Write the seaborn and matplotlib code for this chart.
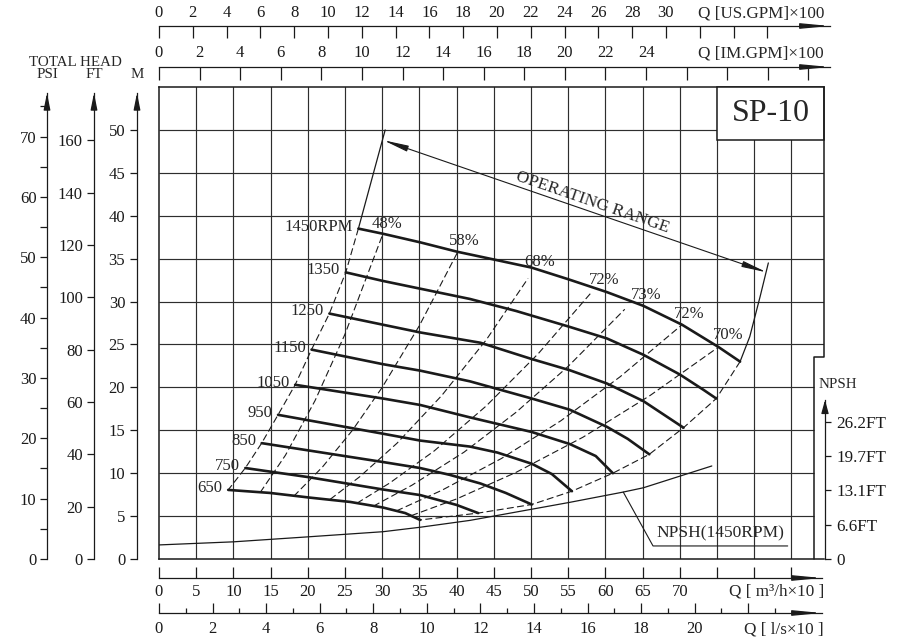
import numpy as np
import pandas as pd
import seaborn as sns
import matplotlib.pyplot as plt
from matplotlib.patches import Rectangle

# --- performance data ---
# flow Q in (m3/h x10), head H in metres
q_1450 = [26.8, 30.1, 35.1, 40.1, 45.0, 50.1, 55.0, 60.2, 65.1, 70.3, 75.2, 78.1]
h_1450 = [38.5, 37.9, 36.9, 35.8, 34.9, 33.95, 32.6, 31.1, 29.5, 27.3, 24.7, 23.0]
q_1350 = [25.1, 30.1, 35.1, 41.8, 48.0, 55.0, 60.2, 65.1, 70.0, 73.2, 74.9]
h_1350 = [33.4, 32.4, 31.5, 30.3, 28.9, 27.1, 25.7, 23.8, 21.5, 19.7, 18.7]
q_1250 = [22.9, 30.1, 35.1, 43.2, 50.1, 55.2, 60.2, 65.1, 70.5]
h_1250 = [28.6, 27.3, 26.4, 25.2, 23.3, 22.0, 20.45, 18.4, 15.3]
q_1150 = [20.5, 30.1, 35.1, 41.8, 50.1, 55.2, 60.2, 63.0, 65.9]
h_1150 = [24.4, 22.7, 21.95, 20.7, 18.7, 17.4, 15.4, 14.0, 12.2]
q_1050 = [18.3, 30.1, 35.1, 41.8, 50.1, 55.2, 58.7, 61.0]
h_1050 = [20.3, 18.7, 17.95, 16.5, 14.8, 13.4, 12.0, 10.0]
q_950 = [16.0, 30.1, 35.1, 41.8, 45.5, 50.1, 52.8, 55.5]
h_950 = [16.8, 14.6, 13.8, 13.1, 12.4, 11.1, 9.9, 7.9]
q_850 = [13.8, 30.1, 35.1, 39.1, 43.2, 46.6, 50.1]
h_850 = [13.5, 11.3, 10.6, 9.8, 8.8, 7.7, 6.35]
q_750 = [11.6, 20.0, 30.1, 35.1, 40.0, 42.9]
h_750 = [10.6, 9.55, 8.1, 7.45, 6.3, 5.35]
q_650 = [9.3, 14.9, 20.3, 25.7, 30.1, 33.1, 35.1]
h_650 = [8.05, 7.7, 7.15, 6.65, 6.0, 5.35, 4.55]

speeds = [1450, 1350, 1250, 1150, 1050, 950, 850, 750, 650]
speed_q = [q_1450, q_1350, q_1250, q_1150, q_1050, q_950, q_850, q_750, q_650]
speed_h = [h_1450, h_1350, h_1250, h_1150, h_1050, h_950, h_850, h_750, h_650]

# iso-efficiency lines (dashed)
eff_text = ['48%', '58%', '68%', '72%', '73%', '72%', '70%']
iso_48_q = [13.6, 17.0, 21.0, 25.0, 30.1]
iso_48_h = [7.75, 12.1, 18.5, 26.2, 37.9]
iso_58_q = [18.1, 22.0, 26.0, 30.0, 35.0, 40.1]
iso_58_h = [7.3, 10.75, 15.0, 20.0, 27.2, 35.7]
iso_68_q = [23.0, 27.0, 32.0, 38.0, 44.0, 49.6]
iso_68_h = [6.95, 9.6, 13.5, 19.05, 25.55, 32.7]
iso_72a_q = [26.6, 31.0, 37.0, 44.0, 51.0, 58.2]
iso_72a_h = [6.5, 8.85, 12.6, 17.85, 23.95, 31.15]
iso_73_q = [28.8, 34.0, 41.0, 48.0, 55.0, 62.6]
iso_73_h = [6.15, 8.6, 12.45, 17.1, 22.45, 29.1]
iso_72b_q = [31.9, 38.0, 46.0, 54.0, 62.0, 70.3]
iso_72b_h = [5.6, 8.0, 11.7, 16.1, 21.25, 27.3]
iso_70_q = [33.9, 40.0, 48.0, 57.0, 66.0, 75.2]
iso_70_h = [5.05, 7.0, 10.1, 14.2, 19.05, 24.7]
iso_q = [iso_48_q, iso_58_q, iso_68_q, iso_72a_q, iso_73_q, iso_72b_q, iso_70_q]
iso_h = [iso_48_h, iso_58_h, iso_68_h, iso_72a_h, iso_73_h, iso_72b_h, iso_70_h]
eff_label_q = [30.7, 41.0, 51.1, 59.8, 65.5, 71.2, 76.5]
eff_label_h = [39.0, 37.0, 34.65, 32.5, 30.8, 28.5, 26.1]

# NPSH at 1450 rpm (metres)
npsh_q = [0, 10.0, 20.0, 30.1, 35.1, 41.8, 50.1, 55.2, 62.4, 65.1, 74.3]
npsh_m = [0.82, 1.0, 1.29, 1.59, 1.85, 2.25, 2.9, 3.3, 3.9, 4.15, 5.42]

# operating range limits
op_left_q = [26.8, 30.4]
op_left_h = [38.5, 50.0]
op_right_q = [78.1, 79.4, 80.8, 81.9]
op_right_h = [23.0, 25.9, 30.6, 34.5]
op_arrow_q = [30.15, 81.7]
op_arrow_h = [48.8, 33.4]

# unit conversions per (m3/h x10)
US_GPM = 0.4403
IM_GPM = 0.3666
LPS = 0.2778
PSI_PER_M = 1.4223
FT_PER_M = 3.2808

# --- style ---
sns.set_theme(style='white')
plt.rcParams['font.family'] = ['Liberation Serif', 'DejaVu Serif']
plt.rcParams['lines.scale_dashes'] = False
plt.rcParams['lines.dashed_pattern'] = [5.0, 2.4]

W, H = 904, 638
fig = plt.figure(figsize=(W / 100, H / 100), dpi=100)


def px_box(x0, y0, x1, y1):
    return [x0 / W, 1 - y1 / H, (x1 - x0) / W, (y1 - y0) / H]


def arrow_head(a, xy, back, hl, hw):
    a.annotate('', xy=xy, xycoords='axes fraction', xytext=back, textcoords='offset points',
               arrowprops=dict(arrowstyle=f'-|>,head_length={hl},head_width={hw}', fc='k', ec='k',
                               lw=0.9, shrinkA=0, shrinkB=0, mutation_scale=10), annotation_clip=False)


QMAX, HMAX = 89.38, 55.0
STEP_Q, STEP_H = 88.04, 23.54
PX_Q = 665 / QMAX
GRID = '#2e2e2e'
TICK_FS = 12

# main plot area
ax = fig.add_axes(px_box(159, 87, 824, 559))
ax.set_axisbelow(True)

curves = pd.concat([pd.DataFrame({'rpm': n, 'q': q, 'h': h})
                    for n, q, h in zip(speeds, speed_q, speed_h)])
sns.lineplot(data=curves, x='q', y='h', units='rpm', estimator=None, sort=False,
             color='k', lw=1.9, ax=ax, legend=False, zorder=3)

iso = pd.concat([pd.DataFrame({'line': i, 'q': q, 'h': h})
                 for i, (q, h) in enumerate(zip(iso_q, iso_h))])
sns.lineplot(data=iso, x='q', y='h', units='line', estimator=None, sort=False,
             color='k', lw=0.8, linestyle='--', ax=ax, legend=False, zorder=2)

# left (start) and right (end) dashed limits
sns.lineplot(x=[q[0] for q in speed_q], y=[h[0] for h in speed_h], sort=False,
             color='k', lw=0.8, linestyle='--', ax=ax, zorder=2)
sns.lineplot(x=[q[-1] for q in speed_q], y=[h[-1] for h in speed_h], sort=False,
             color='k', lw=0.8, linestyle='--', ax=ax, zorder=2)

# operating range boundaries and arrow
ax.plot(op_left_q, op_left_h, color='k', lw=0.9, zorder=3)
ax.plot(op_right_q, op_right_h, color='k', lw=0.9, zorder=3)
ax.annotate('', xy=(op_arrow_q[1], op_arrow_h[1]), xytext=(op_arrow_q[0], op_arrow_h[0]),
            arrowprops=dict(arrowstyle='<|-|>,head_length=1.5,head_width=0.18', fc='k', ec='k',
                            lw=0.8, shrinkA=0, shrinkB=0, mutation_scale=10))

ax.set_xlim(0, QMAX)
ax.set_ylim(0, HMAX)
ax.set_xlabel('')
ax.set_ylabel('')

p0 = ax.transData.transform((op_arrow_q[0], op_arrow_h[0]))
p1 = ax.transData.transform((op_arrow_q[1], op_arrow_h[1]))
angle = np.degrees(np.arctan2(p1[1] - p0[1], p1[0] - p0[0]))
ax.text(58.2, 41.55, 'OPERATING RANGE', rotation=angle, rotation_mode='anchor',
        ha='center', va='center', fontsize=12.5, zorder=5)

# grid
ax.set_xticks(np.arange(5, 90, 5))
ax.set_yticks([])
ax.tick_params(length=0, labelbottom=False, labelleft=False)
ax.grid(axis='x', color=GRID, lw=0.85)
for yv in range(5, 55, 5):
    ax.hlines(yv, 0, QMAX if yv > STEP_H else STEP_Q, color=GRID, lw=0.85, zorder=0.5)

for side in ['left', 'top', 'bottom']:
    ax.spines[side].set_color('k')
    ax.spines[side].set_linewidth(1.1)
ax.spines['right'].set_visible(False)
ax.plot([QMAX, QMAX, STEP_Q, STEP_Q], [HMAX, STEP_H, STEP_H, 0], color='k', lw=1.1,
        clip_on=False, zorder=5)

# model box
ax.add_patch(Rectangle((75, 48.8), QMAX - 75, HMAX - 48.8, fc='white', ec='k', lw=1.1,
                       zorder=4, clip_on=False))
ax.text((75 + QMAX) / 2, (48.8 + HMAX) / 2, 'SP-10', ha='center', va='center',
        fontsize=23, zorder=5)

# speed and efficiency labels
for n, q, h in zip(speeds, speed_q, speed_h):
    ax.annotate(f'{n}RPM' if n == 1450 else str(n), xy=(q[0], h[0]), xytext=(-4, 1.5),
                textcoords='offset points', ha='right', va='center', fontsize=12, zorder=5)
for t, q, h in zip(eff_text, eff_label_q, eff_label_h):
    ax.text(q, h, t, ha='center', va='center', fontsize=12, zorder=5)

# NPSH curve on its own (doubled) scale
ax_n = fig.add_axes(px_box(159, 87, 824, 559))
sns.lineplot(x=npsh_q, y=npsh_m, color='k', lw=0.9, ax=ax_n, zorder=3)
ax_n.plot([npsh_q[8], 66.4, 84.5], [npsh_m[8], 0.76, 0.76], color='k', lw=0.8)
ax_n.text(75.4, 1.02, 'NPSH(1450RPM)', ha='center', va='bottom', fontsize=12.5)
ax_n.set_xlim(0, QMAX)
ax_n.set_ylim(0, HMAX / 2)
ax_n.axis('off')


# flow scales
def flow_axis(y, tip, per_unit, ticks, last_label, tick_px, side, pad, minor=None):
    if side == 'top':
        a = fig.add_axes(px_box(159, y, tip, y + 1))
    else:
        a = fig.add_axes(px_box(159, y - 1, tip, y))
    a.set_xlim(0, (tip - 159) / PX_Q)
    a.set_ylim(0, 1)
    a.patch.set_visible(False)
    for s in a.spines.values():
        s.set_visible(False)
    a.spines[side].set_visible(True)
    a.spines[side].set_color('k')
    a.spines[side].set_linewidth(0.9)
    a.set_yticks([])
    a.set_xticks([v / per_unit for v in ticks])
    a.set_xticklabels([str(v) if v <= last_label else '' for v in ticks])
    top = side == 'top'
    a.tick_params(axis='x', which='both', direction='in', width=0.9, pad=pad, labelsize=TICK_FS,
                  top=top, bottom=not top, labeltop=top, labelbottom=not top, colors='k')
    a.tick_params(axis='x', which='major', length=tick_px * 0.72)
    if minor is not None:
        a.set_xticks([v / per_unit for v in minor], minor=True)
        a.tick_params(axis='x', which='minor', length=tick_px * 0.36)
    arrow_head(a, (1, 1 if top else 0), (-17, 0), 1.7, 0.16)
    return a


flow_axis(26, 830, US_GPM, list(range(0, 37, 2)), 30, 12, 'top', 3.5)
flow_axis(67, 830, IM_GPM, list(range(0, 33, 2)), 24, 13, 'top', 4.5)
flow_axis(578, 822, 1.0, list(range(0, 86, 5)), 70, 11, 'bottom', 4.5)
flow_axis(613, 822, LPS, list(range(0, 23, 2)), 20, 10, 'bottom', 5.5,
          minor=list(range(1, 24, 2)))

fig.text(824 / W, 1 - 14 / H, 'Q [US.GPM]×100', ha='right', va='center', fontsize=12.3)
fig.text(824 / W, 1 - 53 / H, 'Q [IM.GPM]×100', ha='right', va='center', fontsize=12.3)
fig.text(824 / W, 1 - 591 / H, 'Q [ m³/h×10 ]', ha='right', va='center', fontsize=12.3)
fig.text(824 / W, 1 - 629 / H, 'Q [ l/s×10 ]', ha='right', va='center', fontsize=12.3)


# head scales
def head_axis(x, per_m, ticks, labelled, pad):
    a = fig.add_axes(px_box(x, 93, x + 1, 559))
    a.set_ylim(0, (559 - 93) / (472 / HMAX))
    a.patch.set_visible(False)
    for s in a.spines.values():
        s.set_visible(False)
    a.spines['left'].set_visible(True)
    a.spines['left'].set_color('k')
    a.spines['left'].set_linewidth(0.9)
    a.set_xticks([])
    a.set_yticks([v / per_m for v in ticks])
    a.set_yticklabels([str(v) if v in labelled else '' for v in ticks])
    a.tick_params(axis='y', direction='out', length=5, width=0.9, pad=pad, labelsize=TICK_FS,
                  left=True, labelleft=True, colors='k')
    arrow_head(a, (0, 1), (0, -12), 1.0, 0.2)


head_axis(47, PSI_PER_M, list(range(0, 76, 5)), list(range(0, 71, 10)), 2.5)
head_axis(94, FT_PER_M, list(range(0, 161, 20)), list(range(0, 161, 20)), 3.0)
head_axis(137, 1.0, list(range(0, 51, 5)), list(range(0, 51, 5)), 3.5)

fig.text(75 / W, 1 - 62 / H, 'TOTAL HEAD', ha='center', va='center', fontsize=10.8)
fig.text(47 / W, 1 - 74 / H, 'PSI', ha='center', va='center', fontsize=10.8)
fig.text(94 / W, 1 - 74 / H, 'FT', ha='center', va='center', fontsize=10.8)
fig.text(137 / W, 1 - 74 / H, 'M', ha='center', va='center', fontsize=10.8)

# NPSH scale on the right
a_r = fig.add_axes(px_box(824, 400, 825, 559))
a_r.set_ylim(0, (559 - 400) / (472 / (HMAX / 2)))
a_r.patch.set_visible(False)
for s in a_r.spines.values():
    s.set_visible(False)
a_r.spines['right'].set_visible(True)
a_r.spines['right'].set_color('k')
a_r.spines['right'].set_linewidth(0.9)
a_r.set_xticks([])
a_r.set_yticks([0, 2, 4, 6, 8])
a_r.set_yticklabels(['0', '6.6FT', '13.1FT', '19.7FT', '26.2FT'])
a_r.tick_params(axis='y', direction='out', length=4, width=0.9, pad=4, labelsize=12.3,
                left=False, labelleft=False, right=True, labelright=True, colors='k')
arrow_head(a_r, (1, 1), (0, -8), 0.8, 0.22)
fig.text(838 / W, 1 - 385 / H, 'NPSH', ha='center', va='center', fontsize=10.8)

fig.savefig('out.png', dpi=100)
